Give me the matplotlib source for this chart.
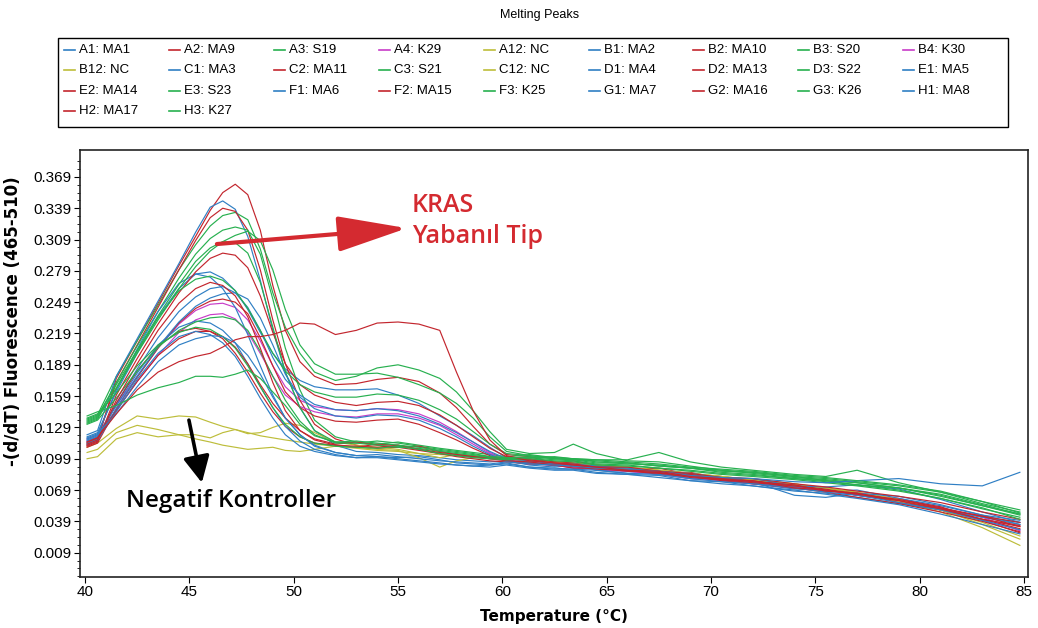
import matplotlib
matplotlib.use("Agg")
import matplotlib.pyplot as plt
from matplotlib.ticker import FixedLocator
from matplotlib.lines import Line2D
from matplotlib.patches import Rectangle
import numpy as np

plt.rcParams['font.family'] = ['Liberation Sans', 'DejaVu Sans']

# temperature grid (deg C)
temp = [40.1, 40.6, 41.5, 42.5, 43.5, 44.5, 45.3, 46.0, 46.6, 47.2, 47.8, 48.4, 49.0, 49.6,
        50.3, 51.0, 52.0, 53.0, 54.0, 55.0, 56.0, 57.0, 57.8, 58.6, 59.4, 60.2, 61.3,
        62.5, 63.4, 64.5, 66.0, 67.5, 69.0, 70.5, 72.0, 74.0, 75.5, 77.0, 79.0, 81.0,
        83.0, 84.8]

# -(d/dT) fluorescence per well
a1_ma1 = [0.120, 0.124, 0.163, 0.200, 0.235, 0.262, 0.276, 0.278, 0.272, 0.260, 0.242, 0.220, 0.200, 0.185, 0.174,
          0.168, 0.165, 0.165, 0.166, 0.160, 0.152, 0.140, 0.131, 0.121, 0.110, 0.100,
          0.096, 0.092, 0.094, 0.088, 0.087, 0.085, 0.080, 0.079, 0.075, 0.070, 0.069, 0.064, 0.060, 0.052, 0.043, 0.036]
a2_ma9 = [0.112, 0.116, 0.176, 0.212, 0.248, 0.284, 0.312, 0.337, 0.354, 0.362, 0.352, 0.318, 0.265, 0.222, 0.192,
          0.178, 0.170, 0.171, 0.175, 0.177, 0.173, 0.162, 0.148, 0.130, 0.113, 0.103,
          0.101, 0.095, 0.097, 0.093, 0.089, 0.090, 0.084, 0.082, 0.078, 0.074, 0.068, 0.066, 0.059, 0.051, 0.041, 0.034]
a3_s19 = [0.137, 0.141, 0.178, 0.212, 0.246, 0.280, 0.304, 0.322, 0.332, 0.335, 0.328, 0.300, 0.258, 0.225, 0.200,
          0.182, 0.174, 0.178, 0.186, 0.189, 0.184, 0.176, 0.163, 0.145, 0.125, 0.108,
          0.104, 0.105, 0.113, 0.104, 0.097, 0.096, 0.092, 0.088, 0.086, 0.082, 0.078, 0.076, 0.071, 0.065, 0.055, 0.046]
a4_k29 = [0.118, 0.122, 0.150, 0.178, 0.205, 0.228, 0.241, 0.247, 0.248, 0.244, 0.232, 0.212, 0.188, 0.168, 0.155,
          0.149, 0.146, 0.145, 0.147, 0.146, 0.142, 0.134, 0.125, 0.115, 0.105, 0.098,
          0.095, 0.094, 0.090, 0.092, 0.088, 0.084, 0.083, 0.078, 0.077, 0.072, 0.071, 0.065, 0.061, 0.052, 0.043, 0.030]
a12_nc = [0.110, 0.114, 0.128, 0.140, 0.137, 0.140, 0.139, 0.134, 0.130, 0.127, 0.124, 0.121, 0.119, 0.117, 0.115,
          0.113, 0.111, 0.109, 0.107, 0.106, 0.104, 0.103, 0.102, 0.101, 0.100, 0.099,
          0.097, 0.096, 0.094, 0.093, 0.091, 0.088, 0.085, 0.082, 0.079, 0.074, 0.070, 0.066, 0.059, 0.050, 0.036, 0.022]
b1_ma2 = [0.122, 0.126, 0.178, 0.214, 0.250, 0.286, 0.316, 0.340, 0.346, 0.338, 0.312, 0.270, 0.222, 0.182, 0.148,
          0.126, 0.112, 0.106, 0.105, 0.103, 0.102, 0.100, 0.098, 0.097, 0.096, 0.097,
          0.093, 0.091, 0.093, 0.088, 0.085, 0.086, 0.080, 0.079, 0.076, 0.072, 0.068, 0.069, 0.061, 0.054, 0.045, 0.040]
b2_ma10 = [0.114, 0.118, 0.172, 0.208, 0.244, 0.280, 0.308, 0.330, 0.339, 0.336, 0.318, 0.280, 0.232, 0.190, 0.155,
           0.132, 0.118, 0.112, 0.109, 0.110, 0.107, 0.104, 0.102, 0.101, 0.099, 0.098,
           0.098, 0.096, 0.091, 0.093, 0.090, 0.086, 0.086, 0.080, 0.079, 0.073, 0.071, 0.066, 0.060, 0.053, 0.040, 0.028]
b3_s20 = [0.135, 0.139, 0.172, 0.207, 0.240, 0.272, 0.295, 0.310, 0.318, 0.321, 0.318, 0.295, 0.252, 0.205, 0.165,
          0.136, 0.120, 0.115, 0.113, 0.115, 0.112, 0.109, 0.107, 0.105, 0.103, 0.101,
          0.103, 0.100, 0.099, 0.098, 0.098, 0.105, 0.096, 0.091, 0.088, 0.084, 0.082, 0.088, 0.076, 0.067, 0.056, 0.048]
b4_k30 = [0.116, 0.120, 0.146, 0.173, 0.198, 0.220, 0.232, 0.237, 0.238, 0.233, 0.220, 0.200, 0.178, 0.160, 0.149,
          0.144, 0.140, 0.139, 0.142, 0.142, 0.138, 0.131, 0.122, 0.113, 0.104, 0.097,
          0.094, 0.093, 0.090, 0.089, 0.087, 0.084, 0.080, 0.078, 0.075, 0.071, 0.069, 0.064, 0.059, 0.050, 0.040, 0.031]
b12_nc = [0.099, 0.101, 0.118, 0.124, 0.120, 0.122, 0.122, 0.119, 0.124, 0.127, 0.123, 0.124, 0.129, 0.133, 0.131,
          0.124, 0.115, 0.112, 0.110, 0.108, 0.104, 0.100, 0.103, 0.102, 0.101, 0.100,
          0.097, 0.096, 0.095, 0.093, 0.091, 0.088, 0.085, 0.082, 0.079, 0.075, 0.070, 0.066, 0.058, 0.048, 0.033, 0.016]
c1_ma3 = [0.118, 0.122, 0.165, 0.204, 0.240, 0.267, 0.276, 0.273, 0.262, 0.244, 0.218, 0.188, 0.160, 0.138, 0.122,
          0.112, 0.105, 0.102, 0.101, 0.100, 0.101, 0.098, 0.095, 0.094, 0.093, 0.095,
          0.091, 0.089, 0.089, 0.086, 0.084, 0.083, 0.078, 0.077, 0.073, 0.068, 0.066, 0.062, 0.056, 0.050, 0.043, 0.038]
c2_ma11 = [0.111, 0.115, 0.160, 0.195, 0.228, 0.258, 0.278, 0.291, 0.296, 0.294, 0.282, 0.255, 0.220, 0.190, 0.170,
           0.160, 0.153, 0.150, 0.153, 0.154, 0.150, 0.141, 0.131, 0.120, 0.109, 0.101,
           0.099, 0.096, 0.095, 0.091, 0.090, 0.086, 0.084, 0.079, 0.078, 0.073, 0.070, 0.064, 0.059, 0.050, 0.041, 0.032]
c3_s21 = [0.134, 0.138, 0.166, 0.200, 0.232, 0.262, 0.283, 0.298, 0.307, 0.313, 0.317, 0.308, 0.280, 0.242, 0.208,
          0.190, 0.180, 0.180, 0.181, 0.177, 0.170, 0.162, 0.152, 0.138, 0.120, 0.106,
          0.102, 0.100, 0.099, 0.096, 0.094, 0.093, 0.090, 0.088, 0.085, 0.081, 0.079, 0.076, 0.071, 0.064, 0.054, 0.045]
c12_nc = [0.105, 0.108, 0.124, 0.131, 0.127, 0.122, 0.118, 0.115, 0.112, 0.110, 0.108, 0.109, 0.110, 0.107, 0.106,
          0.108, 0.111, 0.110, 0.108, 0.107, 0.100, 0.091, 0.097, 0.100, 0.101, 0.100,
          0.097, 0.095, 0.094, 0.092, 0.090, 0.088, 0.085, 0.082, 0.079, 0.075, 0.071, 0.067, 0.060, 0.050, 0.038, 0.025]
d1_ma4 = [0.116, 0.120, 0.152, 0.185, 0.215, 0.240, 0.254, 0.262, 0.264, 0.258, 0.244, 0.222, 0.196, 0.175, 0.160,
          0.151, 0.146, 0.145, 0.147, 0.145, 0.140, 0.132, 0.124, 0.115, 0.106, 0.099,
          0.097, 0.094, 0.094, 0.092, 0.090, 0.087, 0.085, 0.081, 0.080, 0.073, 0.072, 0.074, 0.070, 0.060, 0.048, 0.038]
d2_ma13 = [0.110, 0.114, 0.147, 0.177, 0.205, 0.229, 0.243, 0.250, 0.252, 0.249, 0.238, 0.215, 0.188, 0.163, 0.148,
           0.140, 0.135, 0.134, 0.136, 0.137, 0.132, 0.124, 0.117, 0.109, 0.102, 0.097,
           0.095, 0.093, 0.092, 0.089, 0.088, 0.084, 0.082, 0.078, 0.075, 0.071, 0.067, 0.062, 0.056, 0.048, 0.039, 0.029]
d3_s22 = [0.136, 0.140, 0.170, 0.203, 0.236, 0.266, 0.288, 0.301, 0.307, 0.306, 0.296, 0.268, 0.225, 0.182, 0.148,
          0.126, 0.115, 0.114, 0.116, 0.114, 0.111, 0.108, 0.106, 0.104, 0.101, 0.100,
          0.101, 0.099, 0.098, 0.097, 0.095, 0.092, 0.090, 0.087, 0.086, 0.082, 0.080, 0.077, 0.073, 0.067, 0.058, 0.050]
e1_ma5 = [0.114, 0.118, 0.147, 0.178, 0.206, 0.230, 0.245, 0.253, 0.257, 0.258, 0.252, 0.234, 0.208, 0.180, 0.158,
          0.147, 0.140, 0.138, 0.141, 0.140, 0.136, 0.128, 0.120, 0.111, 0.103, 0.097,
          0.095, 0.094, 0.092, 0.092, 0.088, 0.087, 0.082, 0.081, 0.077, 0.064, 0.062, 0.066, 0.063, 0.055, 0.045, 0.036]
e2_ma14 = [0.112, 0.116, 0.152, 0.183, 0.207, 0.221, 0.224, 0.221, 0.214, 0.200, 0.182, 0.162, 0.144, 0.130, 0.120,
           0.114, 0.112, 0.110, 0.113, 0.112, 0.108, 0.104, 0.101, 0.099, 0.097, 0.096,
           0.094, 0.093, 0.090, 0.090, 0.087, 0.086, 0.081, 0.079, 0.076, 0.073, 0.069, 0.066, 0.057, 0.051, 0.044, 0.038]
e3_s23 = [0.133, 0.137, 0.167, 0.202, 0.234, 0.260, 0.271, 0.274, 0.270, 0.260, 0.243, 0.222, 0.200, 0.183, 0.170,
          0.163, 0.158, 0.158, 0.161, 0.160, 0.155, 0.146, 0.137, 0.125, 0.113, 0.104,
          0.102, 0.099, 0.098, 0.095, 0.095, 0.092, 0.090, 0.086, 0.084, 0.080, 0.078, 0.074, 0.071, 0.063, 0.054, 0.046]
f1_ma6 = [0.117, 0.121, 0.150, 0.181, 0.208, 0.225, 0.231, 0.229, 0.222, 0.210, 0.190, 0.168, 0.148, 0.130, 0.116,
          0.108, 0.103, 0.100, 0.100, 0.098, 0.096, 0.094, 0.093, 0.092, 0.093, 0.094,
          0.091, 0.090, 0.089, 0.088, 0.085, 0.084, 0.080, 0.077, 0.075, 0.071, 0.067, 0.064, 0.057, 0.050, 0.040, 0.031]
f2_ma15 = [0.115, 0.119, 0.145, 0.173, 0.198, 0.214, 0.221, 0.221, 0.216, 0.206, 0.190, 0.170, 0.152, 0.138, 0.126,
           0.118, 0.113, 0.115, 0.112, 0.110, 0.111, 0.106, 0.103, 0.101, 0.100, 0.099,
           0.098, 0.095, 0.094, 0.091, 0.091, 0.087, 0.085, 0.081, 0.080, 0.075, 0.072, 0.068, 0.063, 0.057, 0.048, 0.041]
f3_k25 = [0.132, 0.136, 0.157, 0.183, 0.206, 0.222, 0.230, 0.234, 0.235, 0.232, 0.222, 0.202, 0.178, 0.155, 0.135,
          0.122, 0.114, 0.114, 0.112, 0.110, 0.109, 0.106, 0.104, 0.102, 0.100, 0.099,
          0.100, 0.098, 0.097, 0.094, 0.093, 0.090, 0.088, 0.085, 0.083, 0.080, 0.077, 0.074, 0.069, 0.061, 0.051, 0.043]
g1_ma7 = [0.113, 0.117, 0.144, 0.175, 0.200, 0.216, 0.221, 0.218, 0.210, 0.197, 0.178, 0.157, 0.138, 0.122, 0.111,
          0.106, 0.102, 0.100, 0.101, 0.099, 0.097, 0.095, 0.093, 0.092, 0.091, 0.093,
          0.090, 0.088, 0.088, 0.085, 0.084, 0.081, 0.078, 0.075, 0.073, 0.069, 0.065, 0.061, 0.055, 0.046, 0.036, 0.027]
g2_ma16 = [0.113, 0.117, 0.155, 0.190, 0.222, 0.248, 0.262, 0.268, 0.265, 0.255, 0.235, 0.205, 0.172, 0.145, 0.126,
           0.117, 0.112, 0.111, 0.110, 0.112, 0.108, 0.105, 0.103, 0.101, 0.099, 0.097,
           0.096, 0.093, 0.093, 0.090, 0.088, 0.085, 0.084, 0.079, 0.078, 0.071, 0.069, 0.065, 0.060, 0.052, 0.044, 0.034]
g3_k26 = [0.138, 0.142, 0.162, 0.188, 0.208, 0.220, 0.225, 0.223, 0.216, 0.205, 0.188, 0.168, 0.148, 0.132, 0.120,
          0.114, 0.111, 0.110, 0.109, 0.111, 0.108, 0.104, 0.102, 0.100, 0.099, 0.098,
          0.099, 0.097, 0.096, 0.093, 0.092, 0.090, 0.087, 0.084, 0.082, 0.079, 0.076, 0.073, 0.068, 0.061, 0.052, 0.041]
h1_ma8 = [0.119, 0.123, 0.142, 0.168, 0.192, 0.208, 0.214, 0.217, 0.216, 0.210, 0.198, 0.180, 0.158, 0.138, 0.122,
          0.111, 0.105, 0.102, 0.103, 0.101, 0.099, 0.097, 0.096, 0.095, 0.094, 0.096,
          0.094, 0.093, 0.092, 0.090, 0.089, 0.087, 0.083, 0.081, 0.080, 0.077, 0.076, 0.078, 0.080, 0.075, 0.073, 0.086]
h2_ma17 = [0.115, 0.119, 0.142, 0.165, 0.182, 0.192, 0.197, 0.200, 0.206, 0.213, 0.216, 0.216, 0.218, 0.222, 0.229,
           0.228, 0.218, 0.222, 0.229, 0.230, 0.228, 0.222, 0.182, 0.145, 0.117, 0.102,
           0.097, 0.095, 0.093, 0.091, 0.088, 0.087, 0.082, 0.080, 0.077, 0.074, 0.068, 0.066, 0.059, 0.051, 0.041, 0.035]
h3_k27 = [0.140, 0.144, 0.150, 0.160, 0.167, 0.172, 0.178, 0.178, 0.177, 0.180, 0.184, 0.176, 0.163, 0.150, 0.132,
          0.121, 0.115, 0.116, 0.114, 0.112, 0.110, 0.107, 0.105, 0.103, 0.101, 0.100,
          0.100, 0.101, 0.099, 0.098, 0.096, 0.094, 0.091, 0.089, 0.087, 0.083, 0.081, 0.078, 0.074, 0.068, 0.058, 0.047]

BLUE = '#2f7fc4'
RED = '#c3262e'
GREEN = '#27b04f'
MAGENTA = '#c83cc8'
YELLOW = '#bdbd3a'

# well label, colour, data (legend reads row by row)
wells = [
    ('A1: MA1', BLUE, a1_ma1), ('A2: MA9', RED, a2_ma9), ('A3: S19', GREEN, a3_s19),
    ('A4: K29', MAGENTA, a4_k29), ('A12: NC', YELLOW, a12_nc), ('B1: MA2', BLUE, b1_ma2),
    ('B2: MA10', RED, b2_ma10), ('B3: S20', GREEN, b3_s20), ('B4: K30', MAGENTA, b4_k30),
    ('B12: NC', YELLOW, b12_nc), ('C1: MA3', BLUE, c1_ma3), ('C2: MA11', RED, c2_ma11),
    ('C3: S21', GREEN, c3_s21), ('C12: NC', YELLOW, c12_nc), ('D1: MA4', BLUE, d1_ma4),
    ('D2: MA13', RED, d2_ma13), ('D3: S22', GREEN, d3_s22), ('E1: MA5', BLUE, e1_ma5),
    ('E2: MA14', RED, e2_ma14), ('E3: S23', GREEN, e3_s23), ('F1: MA6', BLUE, f1_ma6),
    ('F2: MA15', RED, f2_ma15), ('F3: K25', GREEN, f3_k25), ('G1: MA7', BLUE, g1_ma7),
    ('G2: MA16', RED, g2_ma16), ('G3: K26', GREEN, g3_k26), ('H1: MA8', BLUE, h1_ma8),
    ('H2: MA17', RED, h2_ma17), ('H3: K27', GREEN, h3_k27),
]

W, H = 1038, 628
fig = plt.figure(figsize=(W / 100, H / 100), dpi=100)
ax = fig.add_axes([80 / W, 1 - 577 / H, 948 / W, 427 / H])

for label, color, vals in wells:
    ax.plot(temp, vals, color=color, lw=0.85, label=label)

ax.set_xlim(39.76, 85.19)
ax.set_ylim(-0.0143, 0.3948)
ax.set_xticks(np.arange(40, 86, 5))
yt = np.arange(0.009, 0.37, 0.03)
ax.set_yticks(yt)
ax.set_yticklabels(['%.3f' % v for v in yt])
ax.yaxis.set_minor_locator(FixedLocator(np.arange(-0.0135, 0.39, 0.0075)))
ax.tick_params(axis='both', which='major', direction='out', length=4, width=0.8,
               labelsize=11, pad=2)
ax.tick_params(axis='y', which='minor', direction='out', length=2.5, width=0.6)
for sp in ax.spines.values():
    sp.set_linewidth(1.2)
    sp.set_color('#222222')

ax.set_xlabel('Temperature (°C)', fontsize=11, fontweight='bold', family='DejaVu Sans')
ax.xaxis.set_label_coords(0.5, -0.075)
ax.set_ylabel('-(d/dT) Fluorescence (465-510)', fontsize=12, fontweight='bold',
              family='DejaVu Sans')
ax.yaxis.set_label_coords(-0.061, 0.60)

fig.text(540 / W, 1 - 15 / H, 'Melting Peaks', ha='center', va='center', fontsize=9)

# legend box drawn by hand so the columns stay evenly spaced
def px(x, y):
    return x / W, 1 - y / H

fig.add_artist(Rectangle(px(58, 127), 950 / W, 89 / H, transform=fig.transFigure,
                         fill=False, edgecolor='black', lw=1.0))
for i, (label, color, _) in enumerate(wells):
    row, col = divmod(i, 9)
    x0 = 64 + col * 104.9
    y0 = 50 + row * 20.3
    (lx0, ly), (lx1, _) = px(x0, y0), px(x0 + 11, y0)
    fig.add_artist(Line2D([lx0, lx1], [ly, ly], transform=fig.transFigure,
                          color=color, lw=1.2))
    fig.text(*px(x0 + 15, y0), label, ha='left', va='center', fontsize=9.5)

# annotations
KRAS_RED = '#d42a30'
ax.annotate('', xy=(55.43, 0.3199), xytext=(46.32, 0.3047),
            arrowprops=dict(arrowstyle='-|>,head_length=2.15,head_width=0.55',
                            mutation_scale=20, lw=3.0, color=KRAS_RED,
                            shrinkA=0, shrinkB=0))
ax.text(55.67, 0.335, 'KRAS', color=KRAS_RED, fontsize=18, fontweight='semibold',
        family=['Open Sans', 'DejaVu Sans'], ha='left', va='baseline')
ax.text(55.67, 0.306, 'Yabanıl Tip', color=KRAS_RED, fontsize=18, fontweight='semibold',
        family=['Open Sans', 'DejaVu Sans'], ha='left', va='baseline')

ax.annotate('', xy=(45.6, 0.076), xytext=(44.98, 0.136),
            arrowprops=dict(arrowstyle='-|>,head_length=0.8,head_width=0.4',
                            mutation_scale=20, lw=2.6, color='black',
                            shrinkA=0, shrinkB=0))
ax.text(41.96, 0.0527, 'Negatif Kontroller', color='black', fontsize=17.5,
        fontweight='semibold', family=['Open Sans', 'DejaVu Sans'],
        ha='left', va='baseline')

fig.savefig('out.png', dpi=100)
